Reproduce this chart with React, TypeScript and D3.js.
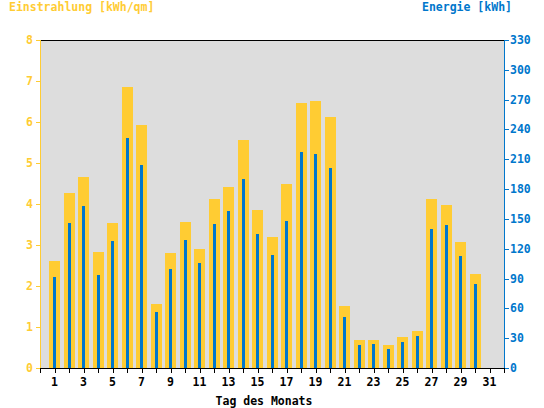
import { scaleLinear, range } from "d3";

const days = [1, 2, 3, 4, 5, 6, 7, 8, 9, 10, 11, 12, 13, 14, 15, 16, 17, 18, 19, 20, 21, 22, 23, 24, 25, 26, 27, 28, 29, 30, 31];
// Einstrahlung in kWh/qm per day
const irradiation = [2.61, 4.27, 4.66, 2.83, 3.54, 6.85, 5.93, 1.56, 2.8, 3.56, 2.9, 4.12, 4.41, 5.56, 3.85, 3.2, 4.49, 6.46, 6.51, 6.12, 1.51, 0.68, 0.68, 0.56, 0.76, 0.9, 4.12, 3.98, 3.07, 2.29, null];
// Energie in kWh per day
const energy = [91.5, 145.9, 163, 93.6, 127.8, 231.4, 204.2, 56.3, 99.6, 128.8, 105.6, 144.9, 158, 190.1, 134.8, 113.7, 147.9, 217.3, 215.3, 201.2, 51.3, 23.1, 24.1, 19.1, 26.2, 32.2, 139.8, 143.9, 112.7, 84.5, null];
const leftTicks = [0, 1, 2, 3, 4, 5, 6, 7, 8];
const rightTicks = [0, 30, 60, 90, 120, 150, 180, 210, 240, 270, 300, 330];

const YELLOW = "#ffcc33";
const BLUE = "#0077cc";
const FONT = "'DejaVu Sans Mono', monospace";

export default function App() {
  const left = 40, right = 504, top = 40, bottom = 368;
  const x = scaleLinear().domain([0, days.length + 1]).range([left, right]);
  const yL = scaleLinear().domain([0, 8]).range([bottom, top]);
  const yR = scaleLinear().domain([0, 330]).range([bottom, top]);

  return (
    <svg width={544} height={408} style={{ position: "fixed", left: 0, top: 0, background: "#fff" }}
      fontFamily={FONT} fontWeight="bold" fontSize={11.5}>
      <rect x={left} y={top} width={right - left} height={bottom - top} fill="#dddddd" />
      <g shapeRendering="crispEdges">
        {days.map((d, i) => irradiation[i] == null ? null : (
          <rect key={"y" + d} x={x(d) - 5.5} width={11} y={yL(irradiation[i] as number)}
            height={bottom - yL(irradiation[i] as number)} fill={YELLOW} />
        ))}
        {days.map((d, i) => energy[i] == null ? null : (
          <rect key={"b" + d} x={x(d) - 1.5} width={3} y={yR(energy[i] as number)}
            height={bottom - yR(energy[i] as number)} fill={BLUE} />
        ))}
        <line x1={left} x2={right} y1={top + 0.5} y2={top + 0.5} stroke="#000" />
        {/* left axis */}
        <line x1={left + 0.5} x2={left + 0.5} y1={top} y2={bottom} stroke={YELLOW} />
        {leftTicks.map((t) => (
          <line key={"lt" + t} x1={left - 4} x2={left} y1={Math.round(yL(t)) + 0.5} y2={Math.round(yL(t)) + 0.5} stroke={YELLOW} />
        ))}
        {/* right axis */}
        <line x1={right + 0.5} x2={right + 0.5} y1={top} y2={bottom} stroke={BLUE} />
        {rightTicks.map((t) => (
          <line key={"rt" + t} x1={right} x2={right + 5} y1={Math.round(yR(t)) + 0.5} y2={Math.round(yR(t)) + 0.5} stroke={BLUE} />
        ))}
        {/* bottom axis */}
        <line x1={left} x2={right + 1} y1={bottom + 0.5} y2={bottom + 0.5} stroke="#000" />
        {range(0, days.length + 2).map((t) => (
          <line key={"bt" + t} x1={Math.round(x(t)) + 0.5} x2={Math.round(x(t)) + 0.5} y1={bottom} y2={bottom + 5} stroke="#000" />
        ))}
      </g>
      {leftTicks.map((t) => (
        <text key={"ll" + t} x={33} y={yL(t)} dy="0.35em" textAnchor="end" fill={YELLOW}>{t}</text>
      ))}
      {rightTicks.map((t) => (
        <text key={"rl" + t} x={510} y={yR(t)} dy="0.35em" fill={BLUE}>{t}</text>
      ))}
      {days.filter((d) => d % 2 === 1).map((d) => (
        <text key={"dl" + d} x={x(d)} y={386} textAnchor="middle" fill="#000">{d}</text>
      ))}
      <text x={264} y={405} textAnchor="middle" fill="#000">Tag des Monats</text>
      <text x={9} y={11} fill={YELLOW}>Einstrahlung [kWh/qm]</text>
      <text x={512} y={11} textAnchor="end" fill={BLUE}>Energie [kWh]</text>
    </svg>
  );
}
